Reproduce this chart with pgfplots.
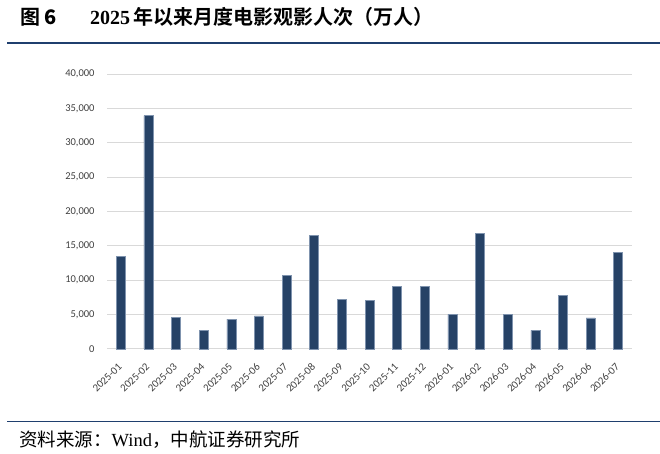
\documentclass[border=0pt]{standalone}
\usepackage{pgfplots}
\pgfplotsset{compat=1.18}
\usepackage{fontspec}
\setmainfont{Liberation Serif}
\newfontfamily\cjk{Noto Sans CJK SC}
\newfontfamily\cjkb{Noto Sans CJK SC Bold}
\newfontfamily\tickfont{Carlito}
\definecolor{bar}{HTML}{264266}
\definecolor{baredge}{HTML}{7F93AE}
\definecolor{rule}{HTML}{1F3F6E}
\definecolor{gridc}{HTML}{D9D9D9}
\definecolor{ticktext}{HTML}{404040}
\begin{document}
\begin{tikzpicture}
\useasboundingbox (0,0) rectangle (660bp,454bp);
\draw[rule, line width=1.4bp] (7bp,411bp) -- (660bp,411bp);
\draw[rule, line width=1.4bp] (7bp,32.5bp) -- (660bp,32.5bp);
\node[anchor=base west, inner sep=0pt] at (20bp,429bp) {\fontsize{20bp}{22bp}\selectfont\cjkb 图\hspace{4bp}\textbf{6}};
\node[anchor=base west, inner sep=0pt] at (90bp,429bp) {\fontsize{20bp}{22bp}\selectfont\textbf{2025}\,\cjkb 年以来月度电影观影人次（万人）};
\node[anchor=base west, inner sep=0pt] at (19bp,7.5bp) {\fontsize{18.5bp}{20bp}\selectfont\cjk 资料来源：\rmfamily Wind\cjk ，中航证券研究所};
\begin{axis}[
  at={(107bp,105bp)}, anchor=south west,
  scale only axis, width=525bp, height=275bp,
  xmin=-0.5, xmax=18.5, ymin=0, ymax=40000,
  axis line style={draw=none},
  ytick={0,5000,10000,15000,20000,25000,30000,35000,40000},
  scaled y ticks=false,
  yticklabel style={/pgf/number format/1000 sep={,}, /pgf/number format/fixed, /pgf/number format/precision=0, /pgf/number format/assume math mode=true, font=\fontsize{10.5bp}{12bp}\selectfont\tickfont, text=ticktext},
  ymajorgrids, xmajorgrids=false, major grid style={gridc, line width=1bp},
  major tick length=0pt,
  yticklabel shift=9bp,
  xtick=data,
  xticklabels={2025-01,2025-02,2025-03,2025-04,2025-05,2025-06,2025-07,2025-08,2025-09,2025-10,2025-11,2025-12,2026-01,2026-02,2026-03,2026-04,2026-05,2026-06,2026-07},
  xticklabel style={rotate=45, anchor=east, font=\fontsize{10.8bp}{12bp}\selectfont\tickfont, text=ticktext, inner sep=1pt},
  xticklabel shift=15bp,
  clip=false,
]
\draw[gridc, line width=1bp] (axis cs:-0.5,0) -- (axis cs:18.5,0);
\addplot[ybar, bar width=9bp, fill=bar, draw=baredge, line width=0.5bp] coordinates {
(0,13480) (1,33940) (2,4550) (3,2760) (4,4360) (5,4800) (6,10720) (7,16480) (8,7170)
(9,7080) (10,9070) (11,9160) (12,5040) (13,16870) (14,5040) (15,2720) (16,7850) (17,4510) (18,14000)
};
\end{axis}
\end{tikzpicture}
\end{document}
